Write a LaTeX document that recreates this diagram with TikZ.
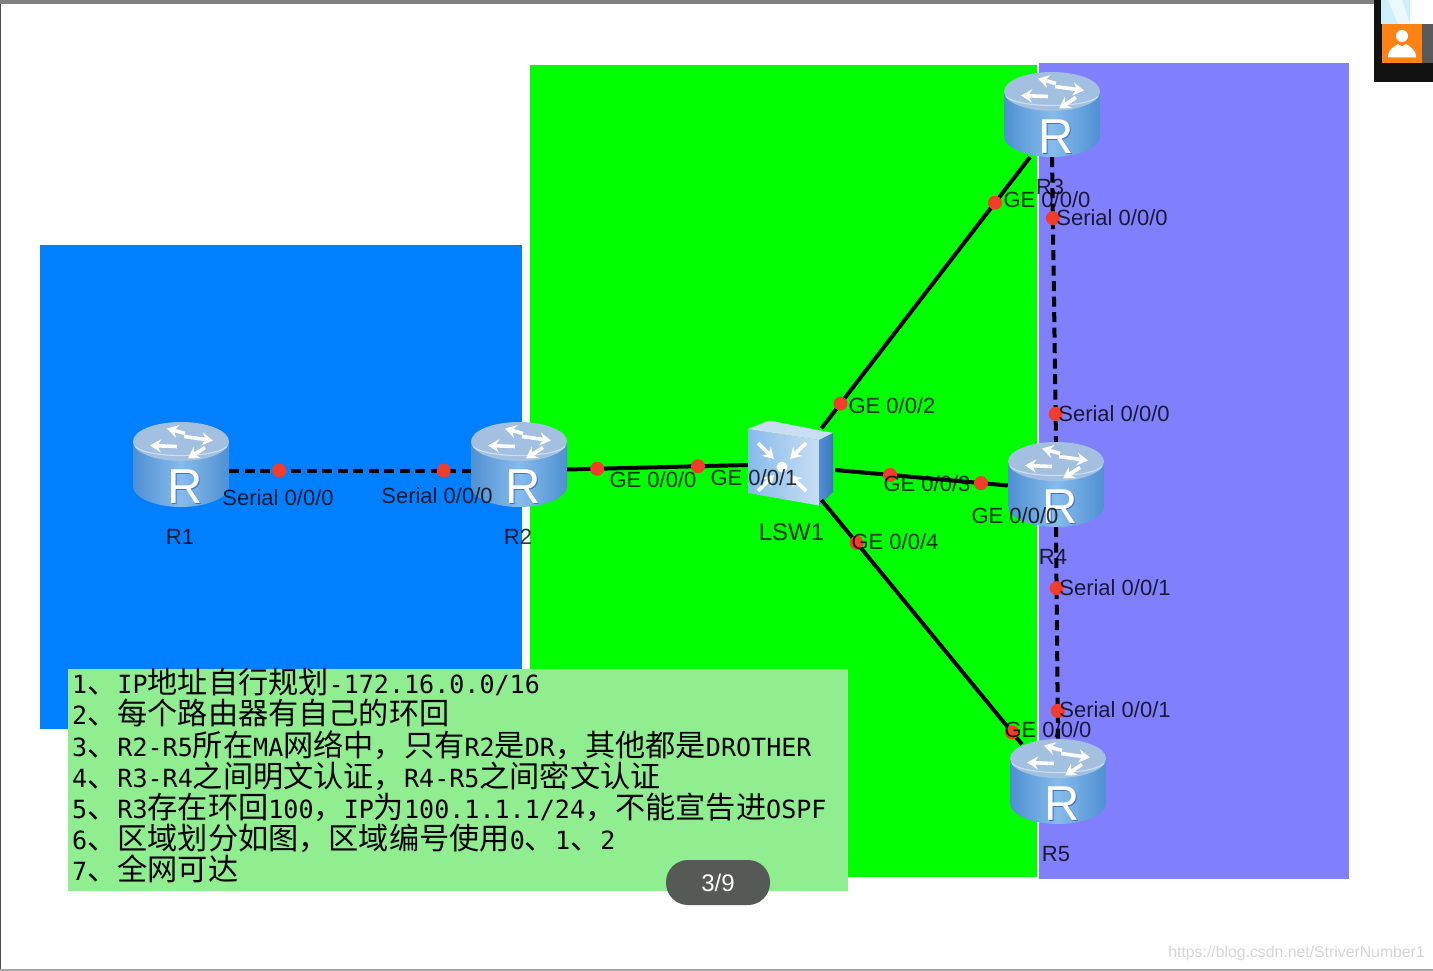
\documentclass[tikz,border=0pt]{standalone}
\usepackage{fontspec}
\setmainfont{Liberation Sans}
\setmonofont{DejaVu Sans Mono}
\newfontfamily\cjk[Scale=1.205]{Noto Sans CJK SC}
\usetikzlibrary{shapes,arrows,arrows.meta,positioning}

\newcommand{\zh}[1]{{\cjk #1}}

\definecolor{areablue}{HTML}{0080FF}
\definecolor{areagreen}{HTML}{00FF00}
\definecolor{areapurple}{HTML}{8080FF}
\definecolor{notegreen}{HTML}{90EE90}
\definecolor{pillgrey}{HTML}{565A56}
\definecolor{dotred}{HTML}{F23C2C}
\definecolor{iconedge}{HTML}{4F90D2}
\definecolor{iconmid}{HTML}{86BBEC}
\definecolor{icontop}{HTML}{A3C0E0}
\definecolor{iconlight}{HTML}{C9DDF3}
\definecolor{icondark}{HTML}{3F76BC}
\definecolor{tagorange}{HTML}{FF8214}

\newcommand{\routericon}{
	\path[left color=iconedge,right color=iconedge,middle color=iconmid] (-48,-23) -- (-48,22) .. controls (-48,33) and (-26,42.5) .. (0,42.5) .. controls (26,42.5) and (48,33) .. (48,22) -- (48,-23) -- cycle;
	\path[fill=icontop] (0,-23) ellipse (48 and 19.5);
	\draw[iconlight,line width=1.2] (-46,-18) .. controls (-34,-6) and (34,-6) .. (46,-18);
	\draw[white,icontip] (4,-31) -- (-14,-36);
	\draw[white,icontip] (-4,-18) -- (-31,-19);
	\draw[white,icontip] (3,-28) -- (32,-24);
	\draw[white,icontip] (24,-17) -- (7,-6);
	\node[text=icondark,font=\fontsize{49}{49}\selectfont,inner sep=0,minimum size=0] at (5,23) {R};
	\node[text=white,font=\fontsize{49}{49}\selectfont,inner sep=0,minimum size=0] at (4,22) {R};
}
\newcommand{\switchicon}{
	\path[left color=iconmid,right color=iconlight] (-43.5,-34) -- (27.5,-23) -- (27.5,42.5) -- (-43.5,30) -- cycle;
	\path[fill=iconlight] (-43.5,-34) -- (-22.5,-42.5) -- (41.5,-30) -- (27.5,-23) -- cycle;
	\path[left color=iconedge,right color=icondark] (27.5,-23) -- (41.5,-30) -- (41.5,29) -- (27.5,42.5) -- cycle;
	\foreach \sx/\sy in {-1/-1,1/-1,1/1,-1/1} \draw[white,icontip] (-9.5+24*\sx,4+24*\sy) -- (-9.5+8*\sx,4+8*\sy);
	\path[fill=white] (-9.5,4) circle (5.5);
}

\tikzset{
	icontip/.style={line width=3.6,-{Stealth[length=11pt,width=13pt]}},
	router/.style={inner sep=0,minimum width=96,minimum height=85,path picture={\begin{scope}[shift={(path picture bounding box.center)}]\routericon\end{scope}}},
	switchbox/.style={inner sep=0,minimum width=87,minimum height=85,path picture={\begin{scope}[shift={(path picture bounding box.center)}]\switchicon\end{scope}}},
	devname/.style={font=\fontsize{22}{22}\selectfont,text opacity=.8,inner sep=0},
	ifname/.style={font=\fontsize{22}{22}\selectfont,text opacity=.8,inner sep=0},
	geline/.style={line width=4,black},
	serialline/.style={line width=4,black,dash pattern=on 10 off 5.5},
	reddot/.style={circle,fill=dotred,inner sep=0,minimum size=14},
}

\begin{document}
\begin{tikzpicture}[x=1pt,y=-1pt]
	\useasboundingbox (0,0) rectangle (1433,971);
	\fill[white] (0,0) rectangle (1433,971);
	\fill[black!70] (0,0) rectangle (1,971);
	\fill[black!35] (0,969) rectangle (1433,971);
	\fill[black!50] (0,0) rectangle (1374,4);

	\fill[areablue] (40,245) rectangle (522,729);
	\fill[areagreen] (530,65) rectangle (1037,877);
	\fill[areapurple] (1039,63) rectangle (1349,879);

	\node[router] (r1) at (181,464.5) {};
	\node[router] (r2) at (519,464.5) {};
	\node[router] (r3) at (1052,114.5) {};
	\node[router] (r4) at (1056,484.5) {};
	\node[router] (r5) at (1058,781.5) {};
	\node[switchbox] (lsw1) at (791.5,463) {};

	\draw[serialline] ([yshift=-6pt]r1.east) -- node[reddot,pos=.207] (d1) {} node[reddot,pos=.888] (d2) {} ([yshift=-6pt]r2.west);
	\draw[geline] ([yshift=-5pt]r2.east) -- node[reddot,pos=.166] (d3) {} node[reddot,pos=.724] (d4) {} ([yshift=-2pt]lsw1.west);
	\draw[geline] ([shift={(30,8)}]lsw1.north) -- node[reddot,pos=.091] (d5) {} node[reddot,pos=.832] (d6) {} ([xshift=-22pt]r3.south);
	\draw[geline] ([yshift=-7pt]lsw1.east) -- node[reddot,pos=.318] (d7) {} node[reddot,pos=.844] (d8) {} ([yshift=-1pt]r4.west);
	\draw[geline] ([shift={(30,37)}]lsw1.center) -- node[reddot,pos=.175] (d9) {} node[reddot,pos=.95] (d10) {} ([shift={(-36,-37)}]r5.center);
	\draw[serialline] (r3.south) -- node[reddot,pos=.214] (d11) {} node[reddot,pos=.902] (d12) {} (r4.north);
	\draw[serialline] (r4.south) -- node[reddot,pos=.288] (d13) {} node[reddot,pos=.868] (d14) {} (r5.north);

	\node[devname,below=22pt of r1,xshift=-1pt] (r1name) {R1};
	\node[devname,below=22pt of r2,xshift=-1pt] (r2name) {R2};
	\node[devname,below=22pt of r3,xshift=-2pt] (r3name) {R3};
	\node[devname,below=22pt of r4,xshift=-3pt] (r4name) {R4};
	\node[devname,below=22pt of r5,xshift=-2pt] (r5name) {R5};
	\node[devname,below=18pt of lsw1,font=\fontsize{24}{24}\selectfont] (lsw1name) {LSW1};

	\node[ifname] (l1) at (278,498) {Serial 0/0/0};
	\node[ifname] (l2) at (437,496) {Serial 0/0/0};
	\node[ifname] (l3) at (653,480) {GE 0/0/0};
	\node[ifname] (l4) at (754,478) {GE 0/0/1};
	\node[ifname] (l5) at (892,406) {GE 0/0/2};
	\node[ifname] (l6) at (1047,200) {GE 0/0/0};
	\node[ifname] (l7) at (927,484) {GE 0/0/3};
	\node[ifname] (l8) at (1015,516) {GE 0/0/0};
	\node[ifname] (l9) at (895,542) {GE 0/0/4};
	\node[ifname] (l10) at (1048,730) {GE 0/0/0};
	\node[ifname] (l11) at (1112,218) {Serial 0/0/0};
	\node[ifname] (l12) at (1114,414) {Serial 0/0/0};
	\node[ifname] (l13) at (1115,588) {Serial 0/0/1};
	\node[ifname] (l14) at (1115,710) {Serial 0/0/1};

	\fill[notegreen] (68,669) rectangle (848,891);
	\node[anchor=north west,inner sep=0,align=left,font=\fontsize{25.05}{31.2}\ttfamily\selectfont] (note) at (72,668) {1\zh{、}IP\zh{地址自行规划}-172.16.0.0/16\\
		2\zh{、每个路由器有自己的环回}\\
		3\zh{、}R2-R5\zh{所在}MA\zh{网络中，只有}R2\zh{是}DR\zh{，其他都是}DROTHER\\
		4\zh{、}R3-R4\zh{之间明文认证，}R4-R5\zh{之间密文认证}\\
		5\zh{、}R3\zh{存在环回}100\zh{，}IP\zh{为}100.1.1.1/24\zh{，不能宣告进}OSPF\\
		6\zh{、区域划分如图，区域编号使用}0\zh{、}1\zh{、}2\\
		7\zh{、全网可达}};

	\node[fill=pillgrey,text=white,rounded corners=22,minimum width=104,minimum height=45,inner sep=0,font=\fontsize{24}{24}\selectfont] (page) at (718,882.5) {3/9};

	\fill[black!93] (1374,0) rectangle (1433,82);
	\fill[white] (1410,0) rectangle (1433,24);
	\fill[cyan!20] (1381,0) rectangle (1410,24);
	\fill[cyan!8] (1388,0) -- (1402,0) -- (1410,24) -- (1398,24) -- cycle;
	\fill[black!65] (1422,24) rectangle (1433,63);
	\fill[tagorange] (1382,24) rectangle (1422,63);
	\fill[white] (1402,36) circle (6);
	\fill[white] (1388,57.5) .. controls (1388,49) and (1394,47) .. (1398,44) -- (1402,46.5) -- (1406,44) .. controls (1410,47) and (1416,49) .. (1416,57.5) -- cycle;

	\node[anchor=east,inner sep=0,text=black!16,font=\fontsize{15.8}{16}\selectfont] (mark) at (1425,953) {https://blog.csdn.net/StriverNumber1};
\end{tikzpicture}
\end{document}
